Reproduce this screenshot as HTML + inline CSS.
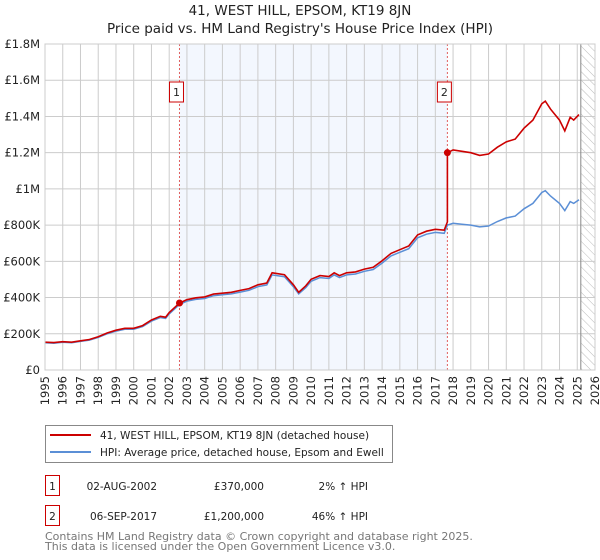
<!DOCTYPE html>
<html><head><meta charset="utf-8"><style>
body{margin:0;background:#fff;}
svg{display:block;font-family:"DejaVu Sans","Liberation Sans",sans-serif;}
</style></head><body>
<svg id="chart" width="600" height="560" viewBox="0 0 600 560"></svg>
<script>
const hpiYears=[1995,1995.5,1996,1996.5,1997,1997.5,1998,1998.5,1999,1999.5,2000,2000.5,2001,2001.5,2001.8,2002,2002.58,2003,2003.5,2004,2004.5,2005,2005.5,2006,2006.5,2007,2007.5,2007.8,2008.5,2009,2009.3,2009.7,2010,2010.5,2011,2011.3,2011.6,2012,2012.5,2013,2013.5,2014,2014.5,2015,2015.5,2016,2016.5,2017,2017.5,2017.68,2018,2018.5,2019,2019.5,2020,2020.5,2021,2021.5,2022,2022.5,2023,2023.2,2023.5,2024,2024.3,2024.6,2024.8,2025.1];
const hpiValues=[150,148,153,150,158,165,180,200,215,225,225,240,270,290,285,310,362,380,390,395,410,415,420,430,440,460,470,525,515,460,420,455,490,510,505,525,510,525,530,545,555,590,630,650,670,730,750,760,755,800,810,805,800,790,795,820,840,850,890,920,980,990,960,920,880,930,920,940];
const saleDates=[2002.58,2017.68];
const salePrices=[370,1200];
const yTicks=[0,200,400,600,800,1000,1200,1400,1600,1800];
const yTickLabels=["£0","£200K","£400K","£600K","£800K","£1M","£1.2M","£1.4M","£1.6M","£1.8M"];
const xTicks=[1995,1996,1997,1998,1999,2000,2001,2002,2003,2004,2005,2006,2007,2008,2009,2010,2011,2012,2013,2014,2015,2016,2017,2018,2019,2020,2021,2022,2023,2024,2025,2026];

const L=45,R=595,T=44,B=370;
const x=v=>L+(v-1995)/(2026-1995)*(R-L);
const y=v=>B-v/1800*(B-T);
const svg=document.getElementById('chart');
const NS='http://www.w3.org/2000/svg';
function el(tag,a,parent){const e=document.createElementNS(NS,tag);for(const k in a)e.setAttribute(k,a[k]);(parent||svg).appendChild(e);return e;}
function hpiAt(t){for(let i=0;i<hpiYears.length-1;i++){if(t<=hpiYears[i+1]){const f=(t-hpiYears[i])/(hpiYears[i+1]-hpiYears[i]);return hpiValues[i]+f*(hpiValues[i+1]-hpiValues[i]);}}return hpiValues[hpiValues.length-1];}

let e;
e=el('text',{x:300,y:15,'text-anchor':'middle','font-size':13.5,fill:'#222'});e.textContent='41, WEST HILL, EPSOM, KT19 8JN';


e=el('text',{x:300,y:33,'text-anchor':'middle','font-size':13.5,fill:'#222'});e.textContent="Price paid vs. HM Land Registry's House Price Index (HPI)";



e=el('rect',{x:x(saleDates[0]),y:T,width:x(saleDates[1])-x(saleDates[0]),height:B-T,fill:'#eef3fd',opacity:0.7});


const defs=el('defs',{});
const pat=el('pattern',{id:'hatch',width:6,height:6,patternUnits:'userSpaceOnUse',patternTransform:'rotate(-45)'},defs);
el('line',{x1:0,y1:0,x2:0,y2:6,stroke:'#bbb','stroke-width':1},pat);
e=el('rect',{x:x(2025.2),y:T,width:R-x(2025.2),height:B-T,fill:'url(#hatch)'});



xTicks.forEach(t=>{const g=el('line',{x1:x(t),x2:x(t),y1:T,y2:B,stroke:'#ccc','stroke-width':1});


const tx=el('text',{transform:`translate(${x(t)+4},${B+6}) rotate(-90)`,'text-anchor':'end','font-size':11.5,fill:'#222'});tx.textContent=t;

});
yTicks.forEach((t,i)=>{const g=el('line',{x1:L,x2:R,y1:y(t),y2:y(t),stroke:'#ccc','stroke-width':1});


const tx=el('text',{x:L-5,y:y(t)+4,'text-anchor':'end','font-size':11.5,fill:'#222'});tx.textContent=yTickLabels[i];

});
e=el('line',{x1:x(2025.2),x2:x(2025.2),y1:T,y2:B,stroke:'#888','stroke-width':1});



saleDates.forEach((d,i)=>{
 const l=el('line',{x1:x(d),x2:x(d),y1:T,y2:B,stroke:'#e06060','stroke-width':1,'stroke-dasharray':'2,2'});
 
 
 const r=el('rect',{x:x(d)-10,y:82,width:14,height:20,fill:'#fff',stroke:'#c00','stroke-width':1});
 
 
 const tx=el('text',{x:x(d)-3,y:96,'text-anchor':'middle','font-size':11,fill:'#222'});tx.textContent=i+1;
 
 
});

let hp=hpiYears.map((t,i)=>`${x(t).toFixed(1)},${y(hpiValues[i]).toFixed(1)}`).join(' ');
e=el('polyline',{points:hp,fill:'none',stroke:'#5b8fd6','stroke-width':1.5});


let pts=[];
hpiYears.forEach((t,i)=>{
 let k=-1;saleDates.forEach((d,j)=>{if(t>=d)k=j;});
 if(k<0)k=0;
 const f=salePrices[k]/hpiAt(saleDates[k]);
 if(k>0&&pts.length&&hpiYears[i-1]<saleDates[k]){const f0=salePrices[k-1]/hpiAt(saleDates[k-1]);pts.push([saleDates[k],hpiAt(saleDates[k])*f0]);pts.push([saleDates[k],salePrices[k]]);}
 pts.push([t,hpiValues[i]*f]);
});
e=el('polyline',{points:pts.map(p=>`${x(p[0]).toFixed(1)},${y(p[1]).toFixed(1)}`).join(' '),fill:'none',stroke:'#cc0000','stroke-width':1.6});


saleDates.forEach((d,i)=>{const c=el('circle',{cx:x(d),cy:y(salePrices[i]),r:3.5,fill:'#cc0000'});

});
e=el('rect',{x:L,y:T,width:R-L,height:B-T,fill:'none',stroke:'#ccc'});



e=el('rect',{x:45.5,y:425.5,width:347,height:37,fill:'#fff',stroke:'#888'});


e=el('line',{x1:50,x2:91,y1:435,y2:435,stroke:'#cc0000','stroke-width':2});


e=el('text',{x:100,y:439,'font-size':10.5,fill:'#222'});e.textContent='41, WEST HILL, EPSOM, KT19 8JN (detached house)';


e=el('line',{x1:50,x2:91,y1:452,y2:452,stroke:'#5b8fd6','stroke-width':2});


e=el('text',{x:100,y:456,'font-size':10.5,fill:'#222'});e.textContent='HPI: Average price, detached house, Epsom and Ewell';



const rows=[["1","02-AUG-2002","£370,000","2% ↑ HPI",475],["2","06-SEP-2017","£1,200,000","46% ↑ HPI",505]];
rows.forEach(r=>{
 const b=el('rect',{x:45.5,y:r[4]+0.5,width:14,height:20,fill:'#fff',stroke:'#c00'});
 
 
 const t0=el('text',{x:52.5,y:r[4]+15,'text-anchor':'middle','font-size':10.5,fill:'#222'});t0.textContent=r[0];
 
 
 const t1=el('text',{x:157,y:r[4]+15,'text-anchor':'end','font-size':10.5,fill:'#222'});t1.textContent=r[1];
 
 
 const t2=el('text',{x:264,y:r[4]+15,'text-anchor':'end','font-size':10.5,fill:'#222'});t2.textContent=r[2];
 
 
 const t3=el('text',{x:368,y:r[4]+15,'text-anchor':'end','font-size':10.5,fill:'#222'});t3.textContent=r[3];
 
 
});
e=el('text',{x:45,y:540,'font-size':11,fill:'#777'});e.textContent='Contains HM Land Registry data © Crown copyright and database right 2025.';


e=el('text',{x:45,y:550,'font-size':11,fill:'#777'});e.textContent='This data is licensed under the Open Government Licence v3.0.';


</script>
</body></html>
